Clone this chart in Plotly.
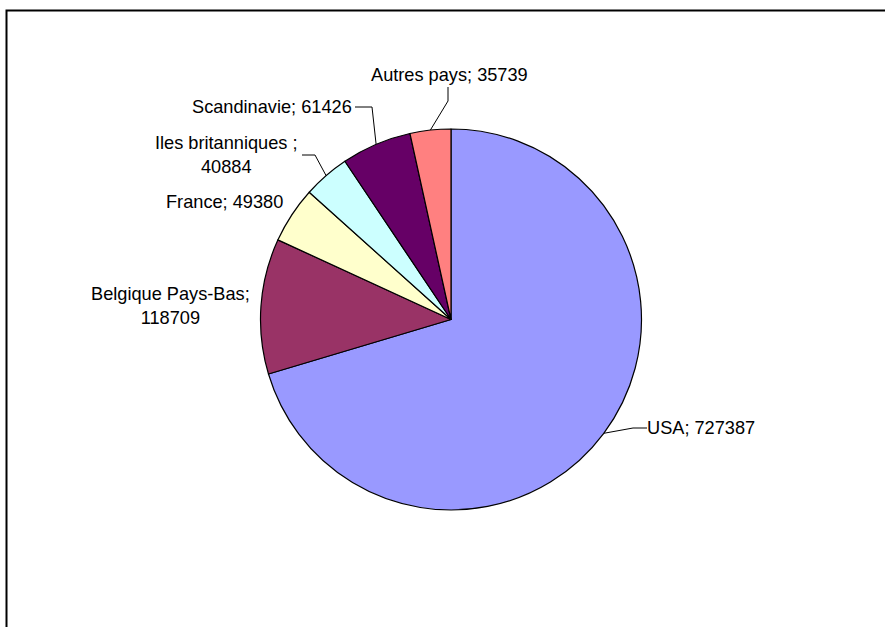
import math
import plotly.graph_objects as go

# --- data ---
labels = ["USA", "Belgique Pays-Bas", "France", "Iles britanniques ", "Scandinavie", "Autres pays"]
values = [727387, 118709, 49380, 40884, 61426, 35739]
colors = ["#9999FF", "#993366", "#FFFFCC", "#CCFFFF", "#660066", "#FF8080"]

# --- geometry (pixels) ---
W, H = 885, 627
CX, CY, R = 451, 319.5, 190.5
FONT = dict(family="Liberation Sans, Arial, sans-serif", size=18.2, color="#000000")

# label text centres and leader elbows, in pixels (None = no leader)
label_style = {
    "USA": dict(xy=(701, 428), elbow=[(633, 428), (647, 428)], br=False),
    "Belgique Pays-Bas": dict(xy=(170, 306), elbow=None, br=True),
    "France": dict(xy=(224, 202), elbow=None, br=False),
    "Iles britanniques ": dict(xy=(226, 155), elbow=[(315, 155), (302, 155)], br=True),
    "Scandinavie": dict(xy=(272, 107), elbow=[(372, 107), (355, 107)], br=False),
    "Autres pays": dict(xy=(449, 75), elbow=[(448, 101), (448, 87)], br=False),
}


def px(x, y):
    return x / W, 1 - y / H


fig = go.Figure(go.Pie(
    labels=labels, values=values, sort=False, direction="clockwise", rotation=0,
    marker=dict(colors=colors, line=dict(color="#000000", width=1.2)),
    textinfo="none", hoverinfo="label+value+percent",
    domain=dict(x=[(CX - R) / W, (CX + R) / W], y=[1 - (CY + R) / H, 1 - (CY - R) / H]),
    showlegend=False,
))

shapes = [dict(type="rect", xref="paper", yref="paper",
               x0=6.5 / W, x1=1.05, y0=-0.05, y1=1 - 10.5 / H,
               line=dict(color="#000000", width=2), fillcolor="rgba(0,0,0,0)")]
annotations = []

total = sum(values)
start = 0.0
for lab, val in zip(labels, values):
    frac = val / total
    mid = (start + frac / 2) * 2 * math.pi
    start += frac
    st = label_style[lab]
    sep = "<br>" if st["br"] else " "
    text = f"{lab};{sep}{val}"
    lx, ly = px(*st["xy"])
    annotations.append(dict(x=lx, y=ly, xref="paper", yref="paper", text=text,
                            xanchor="center", yanchor="middle",
                            showarrow=False, font=FONT, align="center"))
    if st["elbow"]:
        ex, ey = CX + R * math.sin(mid), CY - R * math.cos(mid)
        pts = [(ex, ey)] + st["elbow"]
        path = "M " + " L ".join(f"{x / W},{1 - y / H}" for x, y in pts)
        shapes.append(dict(type="path", xref="paper", yref="paper", path=path,
                           line=dict(color="#000000", width=1)))

fig.update_layout(
    width=W, height=H, margin=dict(l=0, r=0, t=0, b=0),
    paper_bgcolor="#FFFFFF", plot_bgcolor="#FFFFFF",
    shapes=shapes, annotations=annotations,
)

# page body has a default 8px margin; remove it so pixels line up
fig.write_html("out.html", config={"displayModeBar": False},
               post_script="document.body.style.margin='0';")
